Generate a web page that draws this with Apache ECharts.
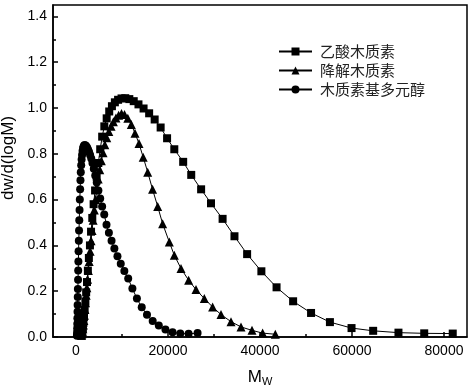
<!DOCTYPE html>
<html>
<head>
<meta charset="utf-8">
<script src="https://cdn.jsdelivr.net/npm/echarts@6/dist/echarts.min.js"></script>
<style>html,body{margin:0;padding:0;background:#fff}#c{width:474px;height:391px}</style>
</head>
<body>
<div id="c"></div>
<script>
// Series names
var seriesNames = ['乙酸木质素', '降解木质素', '木质素基多元醇'];

// 乙酸木质素 (squares): [Mw, dw/d(logM)]
var acetylLignin = [
  [1170,0.005],[1270,0.012],[1370,0.024],[1490,0.04],[1610,0.062],[1740,0.088],[1880,0.12],[2040,0.155],
  [2210,0.195],[2390,0.24],[2580,0.29],[2800,0.345],[3030,0.40],[3270,0.46],[3540,0.52],[3830,0.58],
  [4150,0.64],[4490,0.70],[4860,0.76],[5260,0.82],[5690,0.875],[6160,0.92],[6670,0.955],[7220,0.985],
  [7810,1.008],[8450,1.025],[9150,1.036],[9900,1.042],[10710,1.043],[11590,1.039],[12550,1.03],[13580,1.016],
  [14690,0.998],[15900,0.977],[17100,0.95],[18400,0.915],[19800,0.868],[21370,0.82],[23300,0.765],[25050,0.708],
  [27200,0.645],[29350,0.584],[31870,0.516],[34450,0.44],[37200,0.362],[40300,0.287],[43600,0.217],[47200,0.156],
  [51100,0.105],[55200,0.065],[59900,0.039],[64600,0.027],[70100,0.019],[75700,0.016],[81900,0.015]
];

// 降解木质素 (triangles)
var degradedLignin = [
  [1230,0.008],[1310,0.014],[1400,0.023],[1500,0.036],[1600,0.052],[1710,0.072],[1820,0.095],[1940,0.12],
  [2080,0.15],[2220,0.182],[2360,0.215],[2520,0.252],[2690,0.29],[2870,0.33],[3070,0.375],[3270,0.42],
  [3490,0.465],[3730,0.51],[3980,0.555],[4250,0.6],[4530,0.645],[4830,0.69],[5160,0.73],[5510,0.77],
  [5880,0.805],[6270,0.84],[6690,0.87],[7140,0.897],[7620,0.92],[8130,0.94],[8680,0.957],[9270,0.969],
  [9890,0.976],[10550,0.972],[11260,0.955],[12020,0.928],[12830,0.89],[13690,0.845],[14610,0.785],[15590,0.72],
  [16640,0.645],[17760,0.57],[18830,0.495],[20280,0.415],[21370,0.357],[22830,0.299],[24480,0.248],[26090,0.207],
  [27890,0.168],[29700,0.131],[31520,0.098],[33700,0.067],[35870,0.044],[38260,0.029],[40570,0.017],[43330,0.012]
];

// 木质素基多元醇 (circles)
var ligninPolyol = [
  [205,0.005],[220,0.011],[240,0.022],[260,0.038],[280,0.058],[300,0.082],[330,0.11],[350,0.14],
  [380,0.175],[410,0.21],[450,0.25],[480,0.29],[520,0.33],[560,0.375],[610,0.42],[660,0.465],
  [710,0.51],[770,0.555],[830,0.6],[900,0.645],[970,0.685],[1040,0.72],[1130,0.75],[1220,0.775],
  [1320,0.795],[1420,0.812],[1540,0.825],[1660,0.832],[1790,0.837],[1940,0.838],[2090,0.836],[2260,0.832],
  [2440,0.826],[2630,0.818],[2850,0.808],[3070,0.795],[3320,0.78],[3580,0.76],[3870,0.735],[4180,0.705],
  [4510,0.675],[4870,0.64],[5260,0.605],[5680,0.57],[6140,0.535],[6630,0.49],[7150,0.455],[7730,0.42],
  [8340,0.387],[9010,0.353],[9730,0.32],[10510,0.288],[11350,0.255],[12260,0.212],[13240,0.168],[14290,0.13],
  [15430,0.097],[16670,0.07],[18000,0.05],[19440,0.033],[20990,0.021],[22670,0.015],[24480,0.014],[26430,0.017]
];

// Tick values
var xTicks = [0, 20000, 40000, 60000, 80000];
var xMinorTicks = [10000, 30000, 50000, 70000];
var yTicks = [0, 0.2, 0.4, 0.6, 0.8, 1.0, 1.2, 1.4];
var yMinorTicks = [0.1, 0.3, 0.5, 0.7, 0.9, 1.1, 1.3];

var FONT = 'Liberation Sans';
var CJK = 'Noto Sans CJK SC';

var chart = echarts.init(document.getElementById('c'), null, {renderer: 'canvas'});

function mkSeries(name, data, symbol, size) {
  return {
    name: name, type: 'line', data: data,
    symbol: symbol, symbolSize: size,
    showAllSymbol: true,
    color: '#000',
    lineStyle: {color: '#000', width: 1},
    itemStyle: {color: '#000', borderWidth: 0},
    emphasis: {disabled: true},
    z: 3
  };
}

var axisLineStyle = {color: '#000', width: 1.5};

chart.setOption({
  animation: false,
  backgroundColor: '#fff',
  grid: {left: 53, right: 7, top: 5, bottom: 54, outerBoundsMode: 'none', containLabel: false,
    show: true, borderColor: '#000', borderWidth: 1.5, backgroundColor: 'transparent'},
  legend: {
    orient: 'vertical', left: 273, top: 39,
    itemWidth: 33, itemHeight: 10, itemGap: 4,
    textStyle: {fontFamily: CJK, fontSize: 15, color: '#222', padding: [0, 0, 0, 3]},
    data: seriesNames
  },
  xAxis: [
    {
      type: 'value', min: -5000, max: 85000, position: 'bottom',
      axisLine: {show: true, onZero: false, lineStyle: axisLineStyle},
      axisTick: {show: true, inside: true, length: 5, lineStyle: axisLineStyle, customValues: xTicks},
      axisLabel: {customValues: xTicks, color: '#000', fontSize: 14, fontFamily: FONT, margin: 7,
        formatter: function (v) { return String(v); }},
      splitLine: {show: false},
      name: '{m|M}{w|W}', nameLocation: 'middle', nameGap: 30,
      nameTextStyle: {
        rich: {
          m: {fontSize: 17, fontFamily: FONT, color: '#000', lineHeight: 20},
          w: {fontSize: 11, fontFamily: FONT, color: '#000', lineHeight: 20, verticalAlign: 'bottom', padding: [8, 0, 0, 0]}
        }
      }
    },
    {
      type: 'value', min: -5000, max: 85000, position: 'bottom',
      axisLine: {show: false, onZero: false},
      axisTick: {show: true, inside: true, length: 3, lineStyle: axisLineStyle, customValues: xMinorTicks},
      axisLabel: {show: false},
      splitLine: {show: false}
    }
  ],
  yAxis: [
    {
      type: 'value', min: 0, max: 1.45, position: 'left',
      axisLine: {show: true, onZero: false, lineStyle: axisLineStyle},
      axisTick: {show: true, inside: true, length: 5, lineStyle: axisLineStyle, customValues: yTicks},
      axisLabel: {customValues: yTicks, color: '#000', fontSize: 14, fontFamily: FONT, margin: 6,
        formatter: function (v) { return v.toFixed(1); }},
      splitLine: {show: false},
      name: 'dw/d(logM)', nameLocation: 'middle', nameGap: 32,
      nameTextStyle: {fontSize: 17, fontFamily: FONT, color: '#000', padding: [0, 0, 0, 26]}
    },
    {
      type: 'value', min: 0, max: 1.45, position: 'left',
      axisLine: {show: false, onZero: false},
      axisTick: {show: true, inside: true, length: 3, lineStyle: axisLineStyle, customValues: yMinorTicks},
      axisLabel: {show: false},
      splitLine: {show: false}
    }
  ],
  series: [
    mkSeries(seriesNames[0], acetylLignin, 'rect', 8),
    mkSeries(seriesNames[1], degradedLignin, 'triangle', 9),
    mkSeries(seriesNames[2], ligninPolyol, 'circle', 8)
  ]
});
</script>
</body>
</html>
